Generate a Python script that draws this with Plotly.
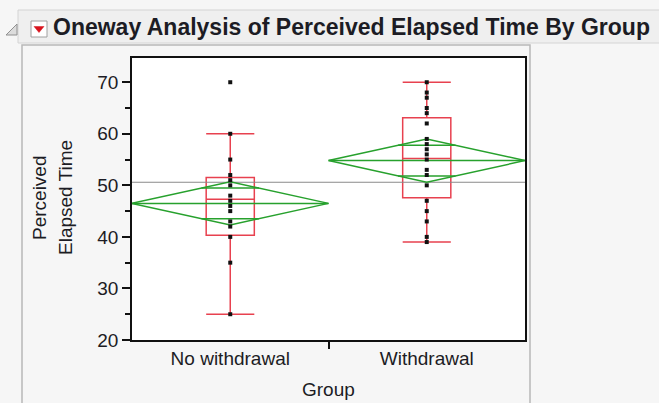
import math
import plotly.graph_objects as go

# ---------------- data ----------------
groups = ["No withdrawal", "Withdrawal"]
no_withdrawal = [70, 60, 55, 52, 51, 50, 48, 47, 46, 45, 43, 42, 40, 35, 25]
withdrawal = [70, 68, 67, 65, 64, 62, 59, 58, 57, 56, 55, 53, 52, 50, 47, 45, 43, 40, 39]

box_lower = [25, 39]
box_q1 = [40.3, 47.6]
box_median = [47.3, 55.2]
box_q3 = [51.5, 63.1]
box_upper = [60, 70]

group_means = [46.5, 54.8]
ci_lower = [42.3, 50.6]
ci_upper = [50.7, 59.0]
grand_mean = 50.6

y_ticks = [20, 30, 40, 50, 60, 70]
y_range = [20, 74.7]

title_text = "Oneway Analysis of Perceived Elapsed Time By Group"
x_title = "Group"
y_title_lines = ["Perceived", "Elapsed Time"]

# ---------------- style ----------------
W, H = 659, 403
L, R, T, B = 132, 525, 58, 340  # plot area in pixels
FONT = "Liberation Sans, Arial, sans-serif"
RED = "#e8414f"
GREEN = "#27a12d"
TXT = "#1c1c24"


def px(x):
    return (x - L) / (R - L)


def py(y):
    return (B - y) / (B - T)


fig = go.Figure()

# grand mean line
fig.add_trace(go.Scatter(x=[-0.5, len(groups) - 0.5], y=[grand_mean, grand_mean],
                         mode="lines", line=dict(color="#8a8a8a", width=1.2),
                         hoverinfo="skip", showlegend=False))

# means diamonds
for i, g in enumerate(groups):
    m, lo, hi = group_means[i], ci_lower[i], ci_upper[i]
    fig.add_trace(go.Scatter(x=[i - 0.5, i, i + 0.5, i, i - 0.5],
                             y=[m, hi, m, lo, m], mode="lines",
                             line=dict(color=GREEN, width=1.5),
                             hoverinfo="skip", showlegend=False))
    fig.add_trace(go.Scatter(x=[i - 0.5, i + 0.5], y=[m, m], mode="lines",
                             line=dict(color=GREEN, width=1.5),
                             hoverinfo="skip", showlegend=False))
    half = (hi - m) / math.sqrt(2)
    frac = 0.5 * (1 - 1 / math.sqrt(2))
    for yy in (m + half, m - half):
        fig.add_trace(go.Scatter(x=[i - frac, i + frac], y=[yy, yy], mode="lines",
                                 line=dict(color=GREEN, width=1.5),
                                 hoverinfo="skip", showlegend=False))

# box plots
fig.add_trace(go.Box(x=list(range(len(groups))), q1=box_q1, median=box_median,
                     q3=box_q3, lowerfence=box_lower, upperfence=box_upper,
                     width=0.245, whiskerwidth=1, boxpoints=False,
                     line=dict(color=RED, width=1.5), fillcolor="rgba(0,0,0,0)",
                     hoverinfo="skip", showlegend=False))

# points
for i, vals in enumerate([no_withdrawal, withdrawal]):
    fig.add_trace(go.Scatter(x=[i] * len(vals), y=vals, mode="markers",
                             marker=dict(symbol="square", size=4, color="#111111",
                                         line=dict(width=0)),
                             showlegend=False))

shapes = [
    # title bar
    dict(type="rect", xref="paper", yref="paper", x0=px(18), x1=px(664),
         y0=py(43), y1=py(10), fillcolor="#efefef", line=dict(color="#d4d4d4", width=1),
         layer="below"),
    # outer panel
    dict(type="rect", xref="paper", yref="paper", x0=px(22), x1=px(530),
         y0=py(412), y1=py(45), fillcolor="rgba(0,0,0,0)",
         line=dict(color="#b8b8b8", width=1.5), layer="below"),
    # disclosure triangle
    dict(type="path", xref="paper", yref="paper",
         path=f"M {px(17)} {py(24)} L {px(17)} {py(35)} L {px(6)} {py(35)} Z",
         fillcolor="#dcdcdc", line=dict(color="#909090", width=1)),
    # red hotspot icon
    dict(type="rect", xref="paper", yref="paper", x0=px(31), x1=px(47),
         y0=py(37), y1=py(21), fillcolor="#ffffff", line=dict(color="#a0a0a0", width=1)),
    dict(type="path", xref="paper", yref="paper",
         path=f"M {px(34)} {py(26.5)} L {px(44)} {py(26.5)} L {px(39)} {py(32.5)} Z",
         fillcolor="#d8141e", line=dict(color="#d8141e", width=0.5)),
]

annotations = [
    dict(text=f"<b>{title_text}</b>", xref="paper", yref="paper", x=px(51), y=py(27),
         xanchor="left", yanchor="middle", showarrow=False,
         font=dict(family=FONT, size=23, color=TXT)),
    dict(text=x_title, xref="paper", yref="paper", x=px(328), y=py(389),
         xanchor="center", yanchor="middle", showarrow=False,
         font=dict(family=FONT, size=19, color=TXT)),
    dict(text=y_title_lines[0], xref="paper", yref="paper", x=px(39), y=py(198),
         xanchor="center", yanchor="middle", textangle=-90, showarrow=False,
         font=dict(family=FONT, size=19, color=TXT)),
    dict(text=y_title_lines[1], xref="paper", yref="paper", x=px(65), y=py(198),
         xanchor="center", yanchor="middle", textangle=-90, showarrow=False,
         font=dict(family=FONT, size=19, color=TXT)),
]

fig.update_layout(
    width=W, height=H,
    margin=dict(l=L, r=W - R, t=T, b=H - B, pad=0),
    paper_bgcolor="#f6f6f6", plot_bgcolor="#ffffff",
    shapes=shapes, annotations=annotations,
    font=dict(family=FONT, size=19, color=TXT),
    xaxis=dict(range=[-0.5, len(groups) - 0.5], tickmode="array",
               tickvals=list(range(len(groups))), ticktext=groups,
               ticks="", showgrid=False, zeroline=False,
               showline=True, linecolor="#111111", linewidth=1.5, mirror=True,
               tickfont=dict(family=FONT, size=19, color=TXT),
               minor=dict(tickmode="array", tickvals=[0.5], ticks="outside",
                          ticklen=7, tickwidth=1.5, tickcolor="#111111", showgrid=False)),
    yaxis=dict(range=y_range, tickmode="array", tickvals=y_ticks,
               ticks="outside", ticklen=8, tickwidth=1.5, tickcolor="#111111",
               showgrid=False, zeroline=False,
               showline=True, linecolor="#111111", linewidth=1.5, mirror=True,
               tickfont=dict(family=FONT, size=19, color=TXT),
               minor=dict(dtick=5, ticks="outside", ticklen=5, tickwidth=1.5,
                          tickcolor="#111111", showgrid=False)),
    showlegend=False,
)

fig.write_html("out.html")
